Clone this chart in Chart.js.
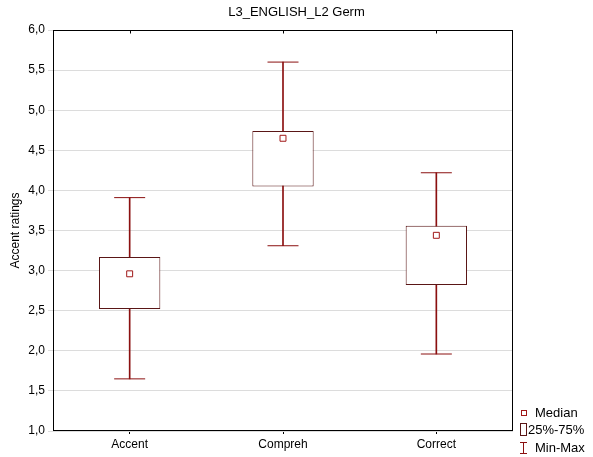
<!DOCTYPE html>
<html>
<head>
<meta charset="utf-8">
<script src="https://cdn.jsdelivr.net/npm/chart.js@4/dist/chart.umd.min.js"></script>
<style>
  html, body { margin: 0; padding: 0; background: #fff; }
  #wrap { width: 593px; height: 457px; }
</style>
</head>
<body>
<div id="wrap"><canvas id="c" width="593" height="457"></canvas></div>
<script>
const chartTitle = 'L3_ENGLISH_L2 Germ';
const yAxisTitle = 'Accent ratings';
const categories = ['Accent', 'Compreh', 'Correct'];
const minValues = [1.65, 3.31, 1.96];
const q1Values = [2.52, 4.05, 2.82];
const medianValues = [2.96, 4.65, 3.44];
const q3Values = [3.17, 4.74, 3.56];
const maxValues = [3.91, 5.60, 4.22];
const yMin = 1.0, yMax = 6.0, yStep = 0.5;
const legendLabels = ['Median', '25%-75%', 'Min-Max'];

const FONT = "'Liberation Sans', Arial, sans-serif";
const WHISKER = '#8b1010';
const BOXLINE = '#5a1616';
const MEDIAN = '#a01818';

const frameAndLegend = {
  id: 'frameAndLegend',
  afterDraw(chart) {
    const ctx = chart.ctx;
    const a = chart.chartArea;
    const xs = chart.scales.x;
    ctx.save();
    ctx.strokeStyle = '#000';
    ctx.lineWidth = 1;
    const L = Math.round(a.left) + 0.5, T = Math.round(a.top) + 0.5;
    const R = Math.round(a.right) - 0.5, B = Math.round(a.bottom) - 0.5;
    ctx.strokeRect(L, T, R - L, B - T);
    ctx.beginPath();
    categories.forEach((c, i) => {
      const x = Math.round(xs.getPixelForValue(i)) + 0.5;
      ctx.moveTo(x, T);
      ctx.lineTo(x, T + 3);
    });
    ctx.stroke();

    // legend
    const lx = a.right;
    const H = chart.height;
    ctx.font = '13px ' + FONT;
    ctx.fillStyle = '#000';
    ctx.textBaseline = 'middle';
    ctx.textAlign = 'left';
    const my = H - 44;
    ctx.strokeStyle = MEDIAN;
    ctx.fillStyle = '#fff';
    ctx.fillRect(lx + 8.5, my - 2.5, 5, 5);
    ctx.strokeRect(lx + 8.5, my - 2.5, 5, 5);
    ctx.fillStyle = '#000';
    ctx.fillText(legendLabels[0], lx + 22, my + 0.5);
    const by = H - 27;
    ctx.strokeStyle = BOXLINE;
    ctx.strokeRect(lx + 7.5, by - 6.5, 6, 12);
    ctx.fillText(legendLabels[1], lx + 15, by + 0.5);
    const wy = H - 9;
    ctx.strokeStyle = WHISKER;
    ctx.beginPath();
    ctx.moveTo(lx + 7, wy - 5.5); ctx.lineTo(lx + 14, wy - 5.5);
    ctx.moveTo(lx + 10.5, wy - 5.5); ctx.lineTo(lx + 10.5, wy + 5.5);
    ctx.moveTo(lx + 7, wy + 5.5); ctx.lineTo(lx + 14, wy + 5.5);
    ctx.stroke();
    ctx.fillText(legendLabels[2], lx + 22, wy + 0.5);
    ctx.restore();
  }
};

const whiskerData = categories.map((c, i) => [minValues[i], maxValues[i]]);
const boxData = categories.map((c, i) => [q1Values[i], q3Values[i]]);
const capData = [];
categories.forEach((c, i) => {
  capData.push({ x: c, y: minValues[i] });
  capData.push({ x: c, y: maxValues[i] });
});
const medianData = categories.map((c, i) => ({ x: c, y: medianValues[i] }));

new Chart(document.getElementById('c'), {
  data: {
    labels: categories,
    datasets: [
      {
        type: 'line', label: 'Median', data: medianData, order: 1,
        showLine: false, pointStyle: 'rect', pointRadius: 4.2,
        pointBackgroundColor: '#fff', pointBorderColor: MEDIAN, pointBorderWidth: 1
      },
      {
        type: 'line', label: 'caps', data: capData, order: 2,
        showLine: false, pointStyle: 'line', pointRadius: 15.5,
        pointBorderColor: WHISKER, pointBorderWidth: 1
      },
      {
        type: 'bar', label: '25%-75%', data: boxData, order: 3, grouped: false,
        backgroundColor: '#fff', borderColor: BOXLINE, borderWidth: 1, borderSkipped: false,
        barPercentage: 0.4, categoryPercentage: 1.0
      },
      {
        type: 'bar', label: 'Min-Max', data: whiskerData, order: 4, grouped: false,
        backgroundColor: WHISKER, borderWidth: 0, barThickness: 1
      }
    ]
  },
  options: {
    responsive: false,
    animation: false,
    events: [],
    layout: { padding: 0 },
    plugins: {
      legend: { display: false },
      tooltip: { enabled: false },
      title: {
        display: true, text: chartTitle, color: '#000',
        font: { family: FONT, size: 13, weight: 'normal' },
        padding: { top: 5, bottom: 9.4 }
      }
    },
    scales: {
      x: {
        type: 'category', offset: true,
        grid: { display: true, offset: false, drawOnChartArea: false, drawTicks: true, tickLength: 3, color: '#000' },
        border: { display: false },
        ticks: { color: '#000', font: { family: FONT, size: 12 }, padding: 3 },
        afterFit(s) { s.height = 26; }
      },
      y: {
        min: yMin, max: yMax,
        grid: { color: '#dcdcdc', tickLength: 5 },
        border: { display: false },
        ticks: {
          stepSize: yStep, color: '#000', font: { family: FONT, size: 12 }, padding: 3,
          callback: v => v.toFixed(1).replace('.', ',')
        },
        title: { display: true, text: yAxisTitle, color: '#000', font: { family: FONT, size: 12 }, padding: { top: 8, bottom: 0 } },
        afterFit(s) { s.width = 53; }
      },
      yR: {
        type: 'linear', position: 'right', display: true,
        grid: { display: false, drawTicks: false },
        border: { display: false },
        ticks: { display: false },
        afterFit(s) { s.width = 80; }
      }
    }
  },
  plugins: [frameAndLegend]
});
</script>
</body>
</html>
